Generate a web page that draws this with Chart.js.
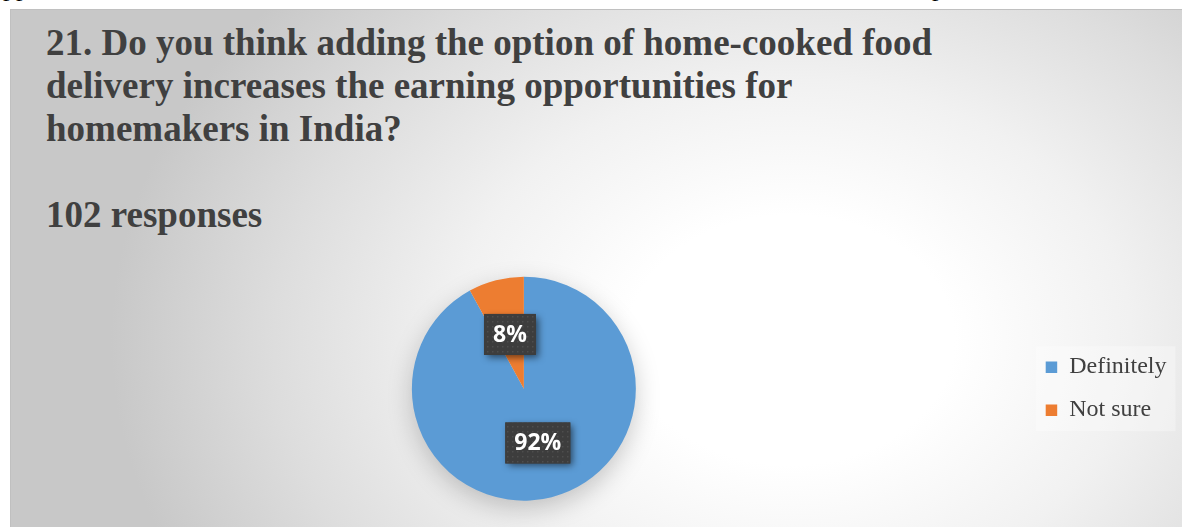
<!DOCTYPE html>
<html>
<head>
<meta charset="utf-8">
<script src="https://cdn.jsdelivr.net/npm/chart.js@4.4.1/dist/chart.umd.min.js"></script>
<style>
  html, body { margin: 0; padding: 0; background: #fff; }
  body { width: 1182px; height: 527px; position: relative; overflow: hidden; }
  #above { position: absolute; left: 0; top: -27px; width: 1182px; height: 35px; font: 26px "Liberation Serif"; color: #000; white-space: nowrap; }
  #above span { position: absolute; top: 0; }
  #frame { position: absolute; left: 10px; top: 9px; width: 1180px; height: 530px;
    border-top: 1px solid #c0c0c0; border-left: 1px solid #c0c0c0;
    background: radial-gradient(ellipse 680px 520px at 780px 330px, #ffffff 0%, #ffffff 24%, #f1f1f1 50%, #dddddd 76%, #c8c8c8 100%); }
  #title { position: absolute; left: 46px; top: 21px; font: bold 37px/43px "Liberation Serif"; color: #404040; white-space: pre; }
  #wrap { position: absolute; left: 10px; top: 9px; width: 1172px; height: 518px; }
</style>
</head>
<body>
<div id="above"><span style="left:3px">pp</span><span style="left:523px">,</span><span style="left:932px">p</span></div>
<div id="frame"></div>
<div id="title">21. Do you think adding the option of home-cooked food
delivery increases the earning opportunities for
homemakers in India?

102 responses</div>
<div id="wrap"><canvas id="c"></canvas></div>
<script>
// answers and their share of the 102 responses (percent)
const answers = ['Definitely', 'Not sure']
const shares = [92, 8]
const colors = ['#5b9bd5', '#ed7d31']

// dotted dark fill used behind the data labels
function dotPattern(ctx){
  const p = document.createElement('canvas'); p.width = 5; p.height = 5
  const g = p.getContext('2d')
  g.fillStyle = '#3d3d3d'; g.fillRect(0, 0, 5, 5)
  g.fillStyle = '#4e4e4e'; g.fillRect(2, 2, 1.5, 1.5)
  return ctx.createPattern(p, 'repeat')
}

const pieShadow = {
  id: 'pieShadow',
  beforeDatasetsDraw(chart){
    const arc = chart.getDatasetMeta(0).data[0]
    if(!arc) return
    const ctx = chart.ctx
    ctx.save()
    ctx.shadowColor = 'rgba(0,0,0,0.22)'; ctx.shadowBlur = 26; ctx.shadowOffsetY = 8
    ctx.fillStyle = '#e8e8e8'
    ctx.beginPath(); ctx.arc(arc.x, arc.y, arc.outerRadius - 1, 0, Math.PI * 2); ctx.fill()
    ctx.restore()
  }
}

const legendBack = {
  id: 'legendBack',
  beforeDraw(chart){
    const lg = chart.legend
    if(!lg || !lg.legendHitBoxes.length) return
    const hb = lg.legendHitBoxes
    const first = hb[0], last = hb[hb.length - 1]
    const ctx = chart.ctx
    ctx.save()
    ctx.fillStyle = 'rgba(255,255,255,0.3)'
    const x = first.left - 10, y = first.top - 9
    ctx.fillRect(x, y, lg.right - 1 - x, last.top + last.height + 9 - y)
    ctx.restore()
  }
}

const pctLabels = {
  id: 'pctLabels',
  afterDatasetsDraw(chart){
    const ctx = chart.ctx
    const vals = chart.data.datasets[0].data
    const total = vals.reduce((a, b) => a + b, 0)
    const pat = dotPattern(ctx)
    chart.getDatasetMeta(0).data.forEach((arc, i) => {
      const {x, y} = arc.tooltipPosition()
      const txt = Math.round(vals[i] / total * 100) + '%'
      ctx.save()
      ctx.font = 'bold 23px "Open Sans"'
      const w = ctx.measureText(txt).width + 18, h = 41
      ctx.shadowColor = 'rgba(0,0,0,0.55)'; ctx.shadowBlur = 7; ctx.shadowOffsetX = 3; ctx.shadowOffsetY = 3
      ctx.fillStyle = '#3d3d3d'
      ctx.fillRect(x - w / 2, y - h / 2, w, h)
      ctx.shadowColor = 'transparent'
      ctx.fillStyle = pat
      ctx.fillRect(x - w / 2, y - h / 2, w, h)
      ctx.fillStyle = '#ffffff'
      ctx.textAlign = 'center'; ctx.textBaseline = 'middle'
      ctx.fillText(txt, x, y + 1)
      ctx.restore()
    })
  }
}

new Chart(document.getElementById('c'), {
  type: 'pie',
  data: {
    labels: answers,
    datasets: [{ data: shares, backgroundColor: colors, borderWidth: 0, hoverOffset: 0 }]
  },
  options: {
    responsive: true, maintainAspectRatio: false, animation: false,
    layout: { padding: { left: 11, right: 5.5, top: 267.7, bottom: 26.3 } },
    plugins: {
      legend: {
        position: 'right',
        labels: { boxWidth: 11.5, boxHeight: 11.5, padding: 19, color: '#404040',
          font: { family: 'Liberation Serif', size: 24 } }
      },
      tooltip: { enabled: false }
    }
  },
  plugins: [pieShadow, legendBack, pctLabels]
})
</script>
</body>
</html>
